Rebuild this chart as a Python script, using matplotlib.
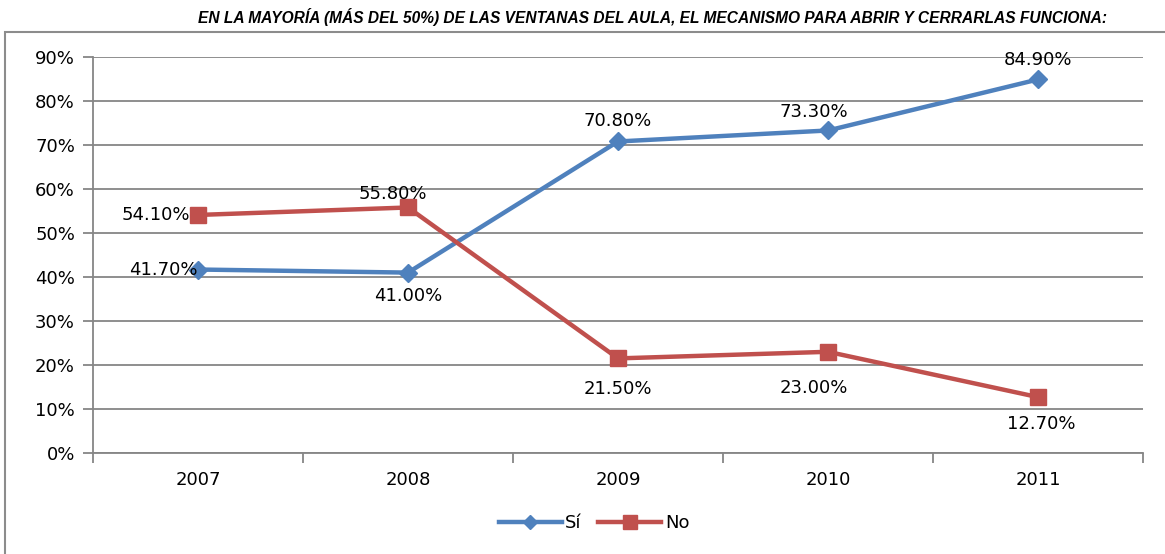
import matplotlib.pyplot as plt
from matplotlib.patches import Rectangle

# data
years = ["2007", "2008", "2009", "2010", "2011"]
si = [41.7, 41.0, 70.8, 73.3, 84.9]
no = [54.1, 55.8, 21.5, 23.0, 12.7]
yticks = [0, 10, 20, 30, 40, 50, 60, 70, 80, 90]
title = "EN LA MAYORÍA (MÁS DEL 50%) DE LAS VENTANAS DEL AULA, EL MECANISMO PARA ABRIR Y CERRARLAS FUNCIONA:"

blue = "#4F81BD"
red = "#C0504D"
grid = "#868686"

fig = plt.figure(figsize=(11.65, 5.54), dpi=100)
ax = fig.add_axes([93 / 1165, 1 - 453 / 554, 1050 / 1165, 396 / 554])

# outer chart border
fig.patches.append(Rectangle((5 / 1165, -0.05), 1.2, 1 - 32 / 554 + 0.05,
                             transform=fig.transFigure, fill=False,
                             edgecolor="#8c8c8c", linewidth=1.5))

x = list(range(len(years)))
ax.plot(x, si, color=blue, lw=3.2, marker="D", ms=9, label="Sí", zorder=3)
ax.plot(x, no, color=red, lw=3.2, marker="s", ms=12, label="No", zorder=3)

fs = 13
ax.set_xlim(-0.5, len(years) - 0.5)
ax.set_ylim(0, 90)
ax.set_yticks(yticks)
ax.set_yticklabels([f"{v}%" for v in yticks])
ax.set_xticks(x)
ax.set_xticklabels(years)
ax.set_xticks([i - 0.5 for i in range(len(years) + 1)], minor=True)
ax.yaxis.grid(True, color=grid, lw=1.3)
ax.set_axisbelow(True)
for s in ["top", "right"]:
    ax.spines[s].set_visible(False)
for s in ["left", "bottom"]:
    ax.spines[s].set_color(grid)
    ax.spines[s].set_linewidth(1.3)
ax.tick_params(axis="y", length=7, color=grid, width=1.3, labelsize=fs, pad=6)
ax.tick_params(axis="x", which="major", length=0, labelsize=fs, pad=13)
ax.tick_params(axis="x", which="minor", length=7, color=grid, width=1.3)

# labels for Sí
ax.annotate("41.70%", (0, si[0]), xytext=(0, 0), textcoords="offset points", ha="right", va="center", fontsize=fs)
ax.annotate("41.00%", (1, si[1]), xytext=(0, -17), textcoords="offset points", ha="center", va="center", fontsize=fs)
ax.annotate("70.80%", (2, si[2]), xytext=(0, 15), textcoords="offset points", ha="center", va="center", fontsize=fs)
ax.annotate("73.30%", (3, si[3]), xytext=(-10, 13), textcoords="offset points", ha="center", va="center", fontsize=fs)
ax.annotate("84.90%", (4, si[4]), xytext=(0, 14), textcoords="offset points", ha="center", va="center", fontsize=fs)
# labels for No
ax.annotate("54.10%", (0, no[0]), xytext=(-6, 0), textcoords="offset points", ha="right", va="center", fontsize=fs)
ax.annotate("55.80%", (1, no[1]), xytext=(-11, 10), textcoords="offset points", ha="center", va="center", fontsize=fs)
ax.annotate("21.50%", (2, no[2]), xytext=(0, -22), textcoords="offset points", ha="center", va="center", fontsize=fs)
ax.annotate("23.00%", (3, no[3]), xytext=(-10, -26), textcoords="offset points", ha="center", va="center", fontsize=fs)
ax.annotate("12.70%", (4, no[4]), xytext=(2, -19), textcoords="offset points", ha="center", va="center", fontsize=fs)

fig.text(652 / 1165, 1 - 17 / 554, title, ha="center", va="center", fontsize=11.2,
         fontweight="bold", fontstyle="italic",
         family=["Liberation Sans Narrow", "Liberation Sans", "DejaVu Sans"])

fig.legend(loc="center", bbox_to_anchor=(594 / 1165, 1 - 523 / 554), ncol=2,
           frameon=False, fontsize=fs, handlelength=3.5, handletextpad=0.2,
           columnspacing=0.9, markerscale=0.8)

fig.savefig("out.png", dpi=100)
